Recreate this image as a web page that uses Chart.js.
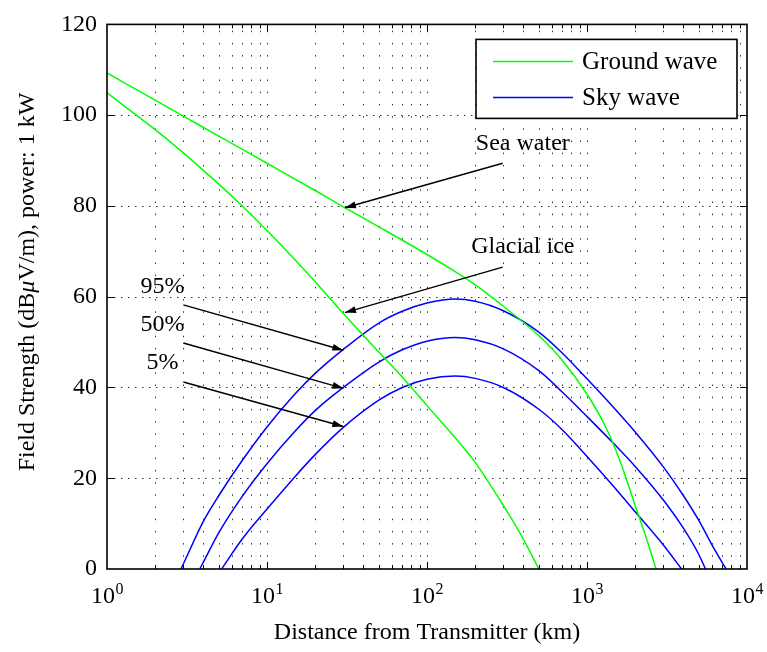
<!DOCTYPE html>
<html>
<head>
<meta charset="utf-8">
<script src="https://cdn.jsdelivr.net/npm/chart.js@4/dist/chart.umd.min.js"></script>
<style>
html,body{margin:0;padding:0;background:#fff;}
#wrap{width:767px;height:652px;}
</style>
</head>
<body>
<div id="wrap"><canvas id="c" width="767" height="652"></canvas></div>
<script>
// ---- Data (distance in km, field strength in dBuV/m) ----
const seaDist   = [1, 2, 3, 5, 10, 20, 30, 50, 100, 150, 200, 300, 500, 700, 1000, 1300, 1600, 2000, 2400, 2700];
const seaField  = [109.3, 103.3, 99.8, 95.4, 89.4, 83.4, 79.8, 75.4, 69.3, 65.5, 62.6, 57.9, 51.4, 46.0, 38.5, 31.5, 24.0, 14.0, 5.8, 0];

const iceDist   = [1, 2, 3, 5, 7, 10, 15, 20, 30, 50, 70, 100, 150, 200, 300, 400, 500];
const iceField  = [104.9, 96.8, 91.7, 84.8, 80.0, 74.6, 68.1, 63.3, 56.3, 47.8, 42.3, 36.0, 28.9, 23.5, 14.0, 6.6, 0];

const sky95Dist  = [2.9, 3, 4, 5, 7, 10, 15, 20, 30, 50, 70, 100, 150, 200, 300, 500, 700, 1000, 1500, 2000, 3000, 4000, 5000, 6000, 7400];
const sky95Field = [0, 1.1, 10.5, 16.2, 23.9, 31.3, 38.6, 43.1, 48.4, 54.2, 56.8, 58.6, 59.5, 59.0, 56.9, 52.2, 47.6, 41.9, 35.2, 30.2, 22.5, 16.2, 10.7, 5.5, 0];

const sky50Dist  = [3.8, 4, 5, 7, 10, 15, 20, 30, 50, 70, 100, 150, 200, 300, 500, 700, 1000, 1500, 2000, 3000, 4000, 5000, 5500];
const sky50Field = [0, 1.5, 8.0, 16.0, 23.2, 30.4, 34.9, 40.0, 45.6, 48.3, 50.2, 51.0, 50.5, 48.5, 43.7, 39.0, 33.6, 27.3, 22.6, 15.2, 9.0, 3.2, 0];

const sky5Dist   = [5.2, 7, 10, 15, 20, 30, 50, 70, 100, 150, 200, 300, 500, 700, 1000, 1500, 2000, 3000, 3900];
const sky5Field  = [0, 6.6, 13.2, 20.4, 25.2, 31.2, 37.2, 40.0, 41.8, 42.5, 42.0, 40.0, 35.2, 30.7, 24.8, 17.8, 12.6, 5.3, 0];

const xDecades   = [1, 10, 100, 1000, 10000];
const xExponents = ['0', '1', '2', '3', '4'];
const yTicks     = [0, 20, 40, 60, 80, 100, 120];
const legendLabels = ['Ground wave', 'Sky wave'];
const yTitle = ['Field Strength (dB', 'μ', 'V/m), power: 1 kW'];

// annotation texts with arrows (data coordinates)
const annotations = [
  {text: 'Sea water',   tx: 397, ty: 92.3, from: [297, 89.4], to: [30.7, 79.6]},
  {text: 'Glacial ice', tx: 397, ty: 69.6, from: [297, 66.5], to: [30.7, 56.5]},
  {text: '95%', tx: 2.22, ty: 60.8, from: [3.0, 58.2], to: [30, 48.2]},
  {text: '50%', tx: 2.22, ty: 52.4, from: [3.0, 49.8], to: [30, 39.8]},
  {text: '5%',  tx: 2.22, ty: 44.0, from: [3.0, 41.2], to: [30, 31.4]}
];

const GREEN = '#00ff00';
const BLUE  = '#0000ff';
const FONT  = '"Liberation Serif", "DejaVu Serif", serif';

function pts(xs, ys) { return xs.map((x, i) => ({x: x, y: ys[i]})); }

const datasets = [
  {label: 'Ground wave', data: pts(seaDist, seaField), borderColor: GREEN},
  {label: 'Ground wave (glacial ice)', data: pts(iceDist, iceField), borderColor: GREEN},
  {label: 'Sky wave', data: pts(sky95Dist, sky95Field), borderColor: BLUE},
  {label: 'Sky wave 50%', data: pts(sky50Dist, sky50Field), borderColor: BLUE},
  {label: 'Sky wave 5%', data: pts(sky5Dist, sky5Field), borderColor: BLUE}
].map(d => Object.assign(d, {
  showLine: true, borderWidth: 1.5, pointRadius: 0, fill: false,
  cubicInterpolationMode: 'monotone'
}));

const gridPlugin = {
  id: 'gridPlugin',
  beforeDatasetsDraw(chart) {
    const {ctx, chartArea: a, scales: {x, y}} = chart;
    ctx.save();
    ctx.strokeStyle = '#333';
    ctx.lineWidth = 1;
    ctx.setLineDash([1.5, 10.7]);
    for (let k = 0; k < 4; k++) {
      for (let m = 1; m <= 9; m++) {
        const v = m * Math.pow(10, k);
        if (v <= 1) continue;
        const px = Math.round(x.getPixelForValue(v)) + 0.5;
        ctx.beginPath(); ctx.moveTo(px, a.bottom); ctx.lineTo(px, a.top); ctx.stroke();
      }
    }
    ctx.setLineDash([1.5, 5.5]);
    yTicks.forEach(t => {
      if (t <= 0 || t >= 120) return;
      const py = Math.round(y.getPixelForValue(t)) + 0.5;
      ctx.beginPath(); ctx.moveTo(a.left, py); ctx.lineTo(a.right, py); ctx.stroke();
    });
    ctx.restore();
  }
};

function arrow(ctx, x1, y1, x2, y2) {
  ctx.beginPath(); ctx.moveTo(x1, y1); ctx.lineTo(x2, y2); ctx.stroke();
  const ang = Math.atan2(y2 - y1, x2 - x1);
  const L = 11, W = 3.5;
  const bx = x2 - L * Math.cos(ang), by = y2 - L * Math.sin(ang);
  ctx.beginPath();
  ctx.moveTo(x2, y2);
  ctx.lineTo(bx + W * Math.sin(ang), by - W * Math.cos(ang));
  ctx.lineTo(bx - W * Math.sin(ang), by + W * Math.cos(ang));
  ctx.closePath();
  ctx.fill();
}

const decorPlugin = {
  id: 'decorPlugin',
  afterDatasetsDraw(chart) {
    const {ctx, chartArea: a, scales: {x, y}} = chart;
    ctx.save();
    ctx.setLineDash([]);
    ctx.strokeStyle = '#000';
    ctx.fillStyle = '#000';
    ctx.lineWidth = 1;
    for (let k = 0; k < 4; k++) {
      for (let m = 1; m <= 9; m++) {
        const v = m * Math.pow(10, k);
        if (v <= 1) continue;
        const px = Math.round(x.getPixelForValue(v)) + 0.5;
        const len = m === 1 ? 7 : 4;
        ctx.beginPath();
        ctx.moveTo(px, a.bottom); ctx.lineTo(px, a.bottom - len);
        ctx.moveTo(px, a.top); ctx.lineTo(px, a.top + len);
        ctx.stroke();
      }
    }
    yTicks.forEach(t => {
      if (t <= 0 || t >= 120) return;
      const py = Math.round(y.getPixelForValue(t)) + 0.5;
      ctx.beginPath();
      ctx.moveTo(a.left, py); ctx.lineTo(a.left + 7, py);
      ctx.moveTo(a.right, py); ctx.lineTo(a.right - 7, py);
      ctx.stroke();
    });
    ctx.lineWidth = 1.6;
    ctx.strokeRect(a.left, a.top, a.right - a.left, a.bottom - a.top);

    // x tick labels 10^k
    ctx.textBaseline = 'alphabetic';
    ctx.textAlign = 'left';
    xDecades.forEach((v, i) => {
      const px = x.getPixelForValue(v);
      ctx.font = '24px ' + FONT;
      const wb = ctx.measureText('10').width;
      ctx.font = '16px ' + FONT;
      const we = ctx.measureText(xExponents[i]).width;
      const sx = px - (wb + we) / 2;
      ctx.font = '24px ' + FONT;
      ctx.fillText('10', sx, a.bottom + 34);
      ctx.font = '16px ' + FONT;
      ctx.fillText(xExponents[i], sx + wb + 0.5, a.bottom + 25);
    });

    // y axis title (with italic mu)
    ctx.save();
    ctx.translate(34, 282);
    ctx.rotate(-Math.PI / 2);
    const fonts = ['24px ' + FONT, 'italic 24px ' + FONT, '24px ' + FONT];
    let tw = 0;
    const ws = yTitle.map((s, i) => { ctx.font = fonts[i]; const w = ctx.measureText(s).width; tw += w; return w; });
    let cx = -tw / 2;
    yTitle.forEach((s, i) => { ctx.font = fonts[i]; ctx.fillText(s, cx, 0); cx += ws[i]; });
    ctx.restore();

    // annotations
    ctx.font = '24px ' + FONT;
    ctx.textAlign = 'center';
    ctx.lineWidth = 1.4;
    annotations.forEach(an => {
      ctx.fillText(an.text, x.getPixelForValue(an.tx), y.getPixelForValue(an.ty));
      arrow(ctx, x.getPixelForValue(an.from[0]), y.getPixelForValue(an.from[1]),
                 x.getPixelForValue(an.to[0]), y.getPixelForValue(an.to[1]));
    });

    // legend
    const bw = 261, bh = 79;
    const bx = a.right - 10 - bw, by = a.top + 15;
    ctx.fillStyle = '#fff';
    ctx.fillRect(bx, by, bw, bh);
    ctx.lineWidth = 1.6;
    ctx.strokeStyle = '#000';
    ctx.strokeRect(bx, by, bw, bh);
    const colors = [GREEN, BLUE];
    legendLabels.forEach((lab, i) => {
      const ly = by + 22 + i * 36;
      ctx.strokeStyle = colors[i];
      ctx.lineWidth = 1.5;
      ctx.beginPath(); ctx.moveTo(bx + 17, ly); ctx.lineTo(bx + 97, ly); ctx.stroke();
      ctx.fillStyle = '#000';
      ctx.textAlign = 'left';
      ctx.font = '25px ' + FONT;
      ctx.fillText(lab, bx + 106, ly + 7.5);
    });
    ctx.restore();
  }
};

new Chart(document.getElementById('c'), {
  type: 'scatter',
  data: {datasets: datasets},
  options: {
    responsive: false,
    animation: false,
    devicePixelRatio: 1,
    layout: {padding: {top: 19, right: 20, left: 0, bottom: 0}},
    plugins: {legend: {display: false}, tooltip: {enabled: false}},
    scales: {
      x: {
        type: 'logarithmic', min: 1, max: 10000,
        grid: {display: false}, border: {display: false},
        ticks: {display: false},
        title: {display: true, text: 'Distance from Transmitter (km)', color: '#000',
                font: {family: FONT, size: 24}, padding: {top: 0, bottom: 5}},
        afterFit(s) { s.height = 83; }
      },
      y: {
        type: 'linear', min: 0, max: 120,
        afterBuildTicks(s) { s.ticks = yTicks.map(v => ({value: v})); },
        grid: {display: false, drawTicks: false}, border: {display: false},
        ticks: {color: '#000', font: {family: FONT, size: 24}, padding: 10},
        title: {display: false},
        afterFit(s) { s.width = 107; }
      }
    }
  },
  plugins: [gridPlugin, decorPlugin]
});
</script>
</body>
</html>
